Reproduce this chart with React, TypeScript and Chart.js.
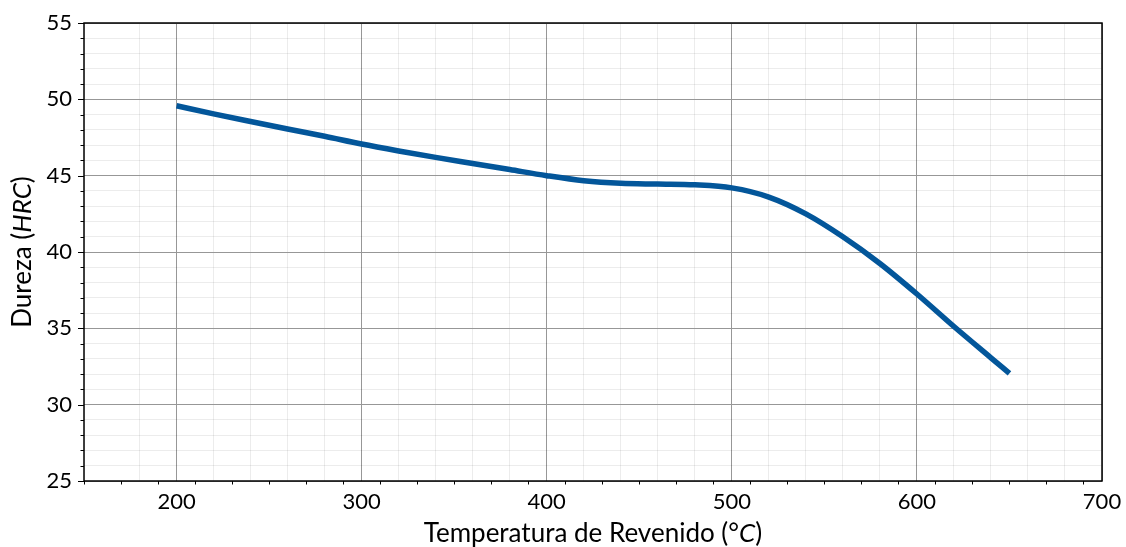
import React, { useEffect, useRef } from 'react';
import { Chart, registerables } from 'chart.js';

Chart.register(...registerables);

// Data
const temperatures = [200, 220, 240, 260, 280, 300, 320, 340, 360, 380, 400, 420, 440, 460, 480, 500, 520, 540, 560, 580, 600, 620, 640, 650];
const hardness = [49.58, 49.05, 48.55, 48.06, 47.58, 47.07, 46.62, 46.2, 45.8, 45.4, 45.0, 44.67, 44.5, 44.45, 44.4, 44.2, 43.6, 42.5, 41.0, 39.25, 37.25, 35.12, 33.07, 32.05];

const xMin = 150;
const xMax = 700;
const xMajorStep = 100;
const xMinorStep = 20;
const yMin = 25;
const yMax = 55;
const yMajorStep = 5;
const yMinorStep = 1;

const xTitleParts = [
  { text: 'Temperatura de Revenido (°', italic: false },
  { text: 'C', italic: true },
  { text: ')', italic: false },
];
const yTitleParts = [
  { text: 'Dureza (', italic: false },
  { text: 'HRC', italic: true },
  { text: ')', italic: false },
];

const FONT_FAMILY = 'Lato, "Open Sans", sans-serif';
const TICK_SIZE = 22;
const TITLE_SIZE = 26;
const LINE_COLOR = '#03569a';
const MAJOR_GRID = '#979797';
const MINOR_GRID = 'rgba(0,0,0,0.075)';

function drawParts(ctx: CanvasRenderingContext2D, parts: { text: string; italic: boolean }[], size: number) {
  const fonts = parts.map((p) => `${p.italic ? 'italic ' : ''}${size}px ${FONT_FAMILY}`);
  let total = 0;
  const widths = parts.map((p, i) => {
    ctx.font = fonts[i];
    const w = ctx.measureText(p.text).width;
    total += w;
    return w;
  });
  let x = -total / 2;
  ctx.textAlign = 'left';
  parts.forEach((p, i) => {
    ctx.font = fonts[i];
    ctx.fillText(p.text, x, 0);
    x += widths[i];
  });
}

const framePlugin = {
  id: 'frameAndTicks',
  afterDraw(chart: any) {
    const { ctx, chartArea } = chart;
    const { left, right, top, bottom } = chartArea;
    const xs = chart.scales.x;
    const ys = chart.scales.y;
    ctx.save();
    ctx.strokeStyle = '#000';
    ctx.lineWidth = 1;
    ctx.beginPath();
    for (let v = xMin; v <= xMax; v += xMinorStep) {
      const px = Math.round(xs.getPixelForValue(v)) + 0.5;
      const len = v % xMajorStep === 0 ? 6 : 3.5;
      ctx.moveTo(px, bottom);
      ctx.lineTo(px, bottom + len);
    }
    for (let v = yMin; v <= yMax; v += yMinorStep) {
      const py = Math.round(ys.getPixelForValue(v)) + 0.5;
      const len = v % yMajorStep === 0 ? 6 : 3.5;
      ctx.moveTo(left - len, py);
      ctx.lineTo(left, py);
    }
    ctx.stroke();
    ctx.lineWidth = 1.5;
    ctx.strokeRect(left, top, right - left, bottom - top);

    ctx.fillStyle = '#000';
    ctx.textBaseline = 'alphabetic';
    ctx.save();
    ctx.translate((left + right) / 2, 542);
    drawParts(ctx, xTitleParts, TITLE_SIZE);
    ctx.restore();

    ctx.save();
    ctx.translate(31, (top + bottom) / 2);
    ctx.rotate(-Math.PI / 2);
    drawParts(ctx, yTitleParts, TITLE_SIZE);
    ctx.restore();
    ctx.restore();
  },
};

export default function App() {
  const ref = useRef<HTMLCanvasElement | null>(null);

  useEffect(() => {
    if (!ref.current) return;
    const chart = new Chart(ref.current, {
      type: 'line',
      data: {
        datasets: [
          {
            data: temperatures.map((t, i) => ({ x: t, y: hardness[i] })),
            borderColor: LINE_COLOR,
            backgroundColor: LINE_COLOR,
            borderWidth: 5.5,
            pointRadius: 0,
            cubicInterpolationMode: 'monotone',
            borderCapStyle: 'butt',
            fill: false,
          },
        ],
      },
      options: {
        animation: false,
        responsive: false,
        maintainAspectRatio: false,
        layout: { padding: { top: 23, right: 24, left: 0, bottom: 0 } },
        plugins: {
          legend: { display: false },
          tooltip: { enabled: false },
        },
        scales: {
          x: {
            type: 'linear',
            min: xMin,
            max: xMax,
            afterFit: (s: any) => {
              s.height = 66;
              s.paddingLeft = 0;
              s.paddingRight = 0;
            },
            ticks: {
              stepSize: xMinorStep,
              autoSkip: false,
              maxRotation: 0,
              padding: 8,
              color: '#000',
              font: { family: FONT_FAMILY, size: TICK_SIZE },
              callback: (v: any) => (Number(v) % xMajorStep === 0 ? String(v) : ''),
            },
            grid: {
              drawTicks: false,
              color: (c: any) => (c.tick && c.tick.value % xMajorStep === 0 ? MAJOR_GRID : MINOR_GRID),
              lineWidth: 1,
            },
            border: { display: false },
          },
          y: {
            type: 'linear',
            min: yMin,
            max: yMax,
            afterFit: (s: any) => {
              s.width = 84;
              s.paddingTop = 0;
              s.paddingBottom = 0;
            },
            ticks: {
              stepSize: yMinorStep,
              autoSkip: false,
              padding: 12,
              color: '#000',
              font: { family: FONT_FAMILY, size: TICK_SIZE },
              callback: (v: any) => (Number(v) % yMajorStep === 0 ? String(v) : ''),
            },
            grid: {
              drawTicks: false,
              color: (c: any) => (c.tick && c.tick.value % yMajorStep === 0 ? MAJOR_GRID : MINOR_GRID),
              lineWidth: 1,
            },
            border: { display: false },
          },
        },
      },
      plugins: [framePlugin],
    } as any);
    return () => chart.destroy();
  }, []);

  return (
    <div style={{ position: 'fixed', left: 0, top: 0, width: 1126, height: 547, background: '#fff' }}>
      <canvas ref={ref} width={1126} height={547} style={{ display: 'block' }} />
    </div>
  );
}
